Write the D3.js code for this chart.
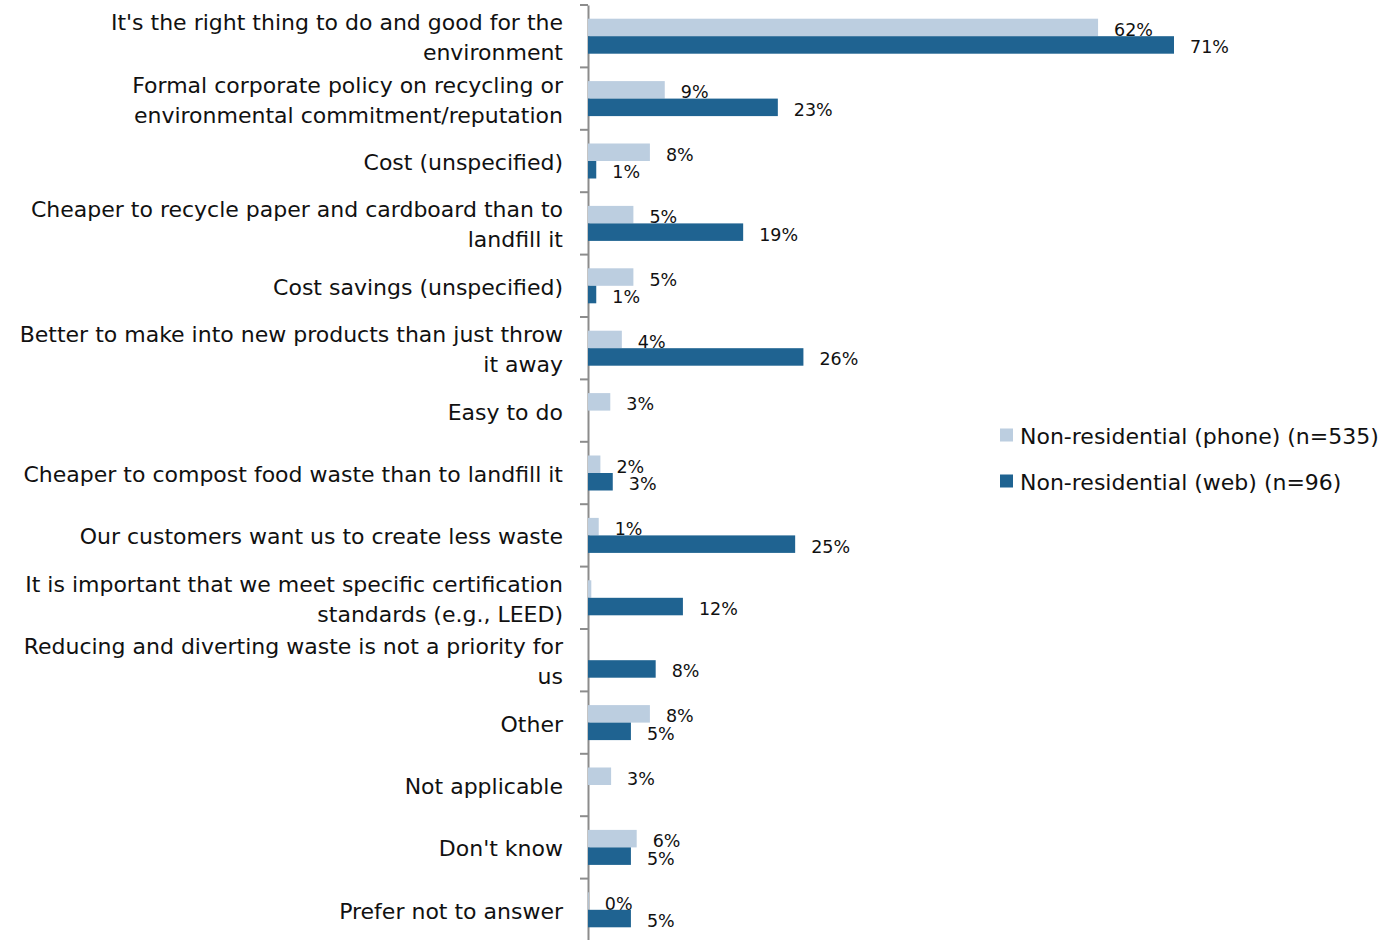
<!DOCTYPE html>
<html><head><meta charset="utf-8">
<script src="https://cdn.jsdelivr.net/npm/d3@7"></script>
<style>body{margin:0;background:#fff}svg{display:block}text{font-family:"DejaVu Sans",Verdana,sans-serif;fill:#111}</style>
</head><body><svg id="c" width="1386" height="940"></svg>
<script>
const categories = [
 "It's the right thing to do and good for the\nenvironment",
 "Formal corporate policy on recycling or\nenvironmental commitment/reputation",
 "Cost (unspecified)",
 "Cheaper to recycle paper and cardboard than to\nlandfill it",
 "Cost savings (unspecified)",
 "Better to make into new products than just throw\nit away",
 "Easy to do",
 "Cheaper to compost food waste than to landfill it",
 "Our customers want us to create less waste",
 "It is important that we meet specific certification\nstandards (e.g., LEED)",
 "Reducing and diverting waste is not a priority for\nus",
 "Other",
 "Not applicable",
 "Don't know",
 "Prefer not to answer"
];
const seriesNames = ["Non-residential (phone) (n=535)", "Non-residential (web) (n=96)"];
const phone = [61.8, 9.3, 7.5, 5.5, 5.5, 4.1, 2.7, 1.5, 1.3, 0.4, 0, 7.5, 2.8, 5.9, 0.1];
const web   = [71.0, 23.0, 1.0, 18.8, 1.0, 26.1, 0, 3.0, 25.1, 11.5, 8.2, 5.2, 0, 5.2, 5.2];
const phoneLabels = ["62%","9%","8%","5%","5%","4%","3%","2%","1%","","","8%","3%","6%","0%"];
const webLabels   = ["71%","23%","1%","19%","1%","26%","","3%","25%","12%","8%","5%","","5%","5%"];
const colors = ["#bccee0", "#1f6391"];

const svg = d3.select("#c");
const x0 = 588;
const x = d3.scaleLinear().domain([0, 71]).range([x0, 1174]);
const y = d3.scaleBand().domain(d3.range(categories.length)).range([5, 941]).paddingInner(0).paddingOuter(0);
const bh = 17.5;

const axis = d3.axisLeft(y).tickSize(0).tickFormat("");
const ag = svg.append("g").attr("transform", `translate(${x0},0)`).call(axis);
ag.select(".domain").attr("stroke", "#8c8c8c").attr("stroke-width", 2);
svg.append("g").selectAll("line").data(d3.range(categories.length + 1)).join("line")
  .attr("x1", x0 - 8).attr("x2", x0)
  .attr("y1", i => i < categories.length ? y(i) : y.range()[1])
  .attr("y2", i => i < categories.length ? y(i) : y.range()[1])
  .attr("stroke", "#8c8c8c").attr("stroke-width", 2);

const lab = svg.append("g");
categories.forEach((c, i) => {
  const lines = c.split("\n");
  const cy = y(i) + y.bandwidth() / 2 + 1.5;
  const lh = 30;
  lines.forEach((l, j) => {
    lab.append("text").attr("x", 563).attr("y", cy + (j - (lines.length - 1) / 2) * lh)
      .attr("text-anchor", "end").attr("dominant-baseline", "central")
      .attr("font-size", 22).text(l);
  });
});

const data = [phone, web];
const labels = [phoneLabels, webLabels];
data.forEach((vals, s) => {
  const g = svg.append("g");
  vals.forEach((v, i) => {
    const cy = y(i) + y.bandwidth() / 2;
    const top = cy - bh + s * bh;
    if (v > 0) {
      g.append("rect").attr("x", x(0)).attr("y", top)
        .attr("width", x(v) - x(0)).attr("height", bh).attr("fill", colors[s]);
    }
    if (labels[s][i]) {
      g.append("text").attr("x", x(v) + 16).attr("y", top + bh / 2 + 2.5)
        .attr("dominant-baseline", "central").attr("font-size", 17.5).text(labels[s][i]);
    }
  });
});

const lg = svg.append("g");
seriesNames.forEach((n, i) => {
  const ly = 435 + i * 46;
  lg.append("rect").attr("x", 1000).attr("y", ly - 6.5).attr("width", 13).attr("height", 13).attr("fill", colors[i]);
  lg.append("text").attr("x", 1020).attr("y", ly + 1.5).attr("dominant-baseline", "central").attr("font-size", 22).text(n);
});
</script></body></html>
